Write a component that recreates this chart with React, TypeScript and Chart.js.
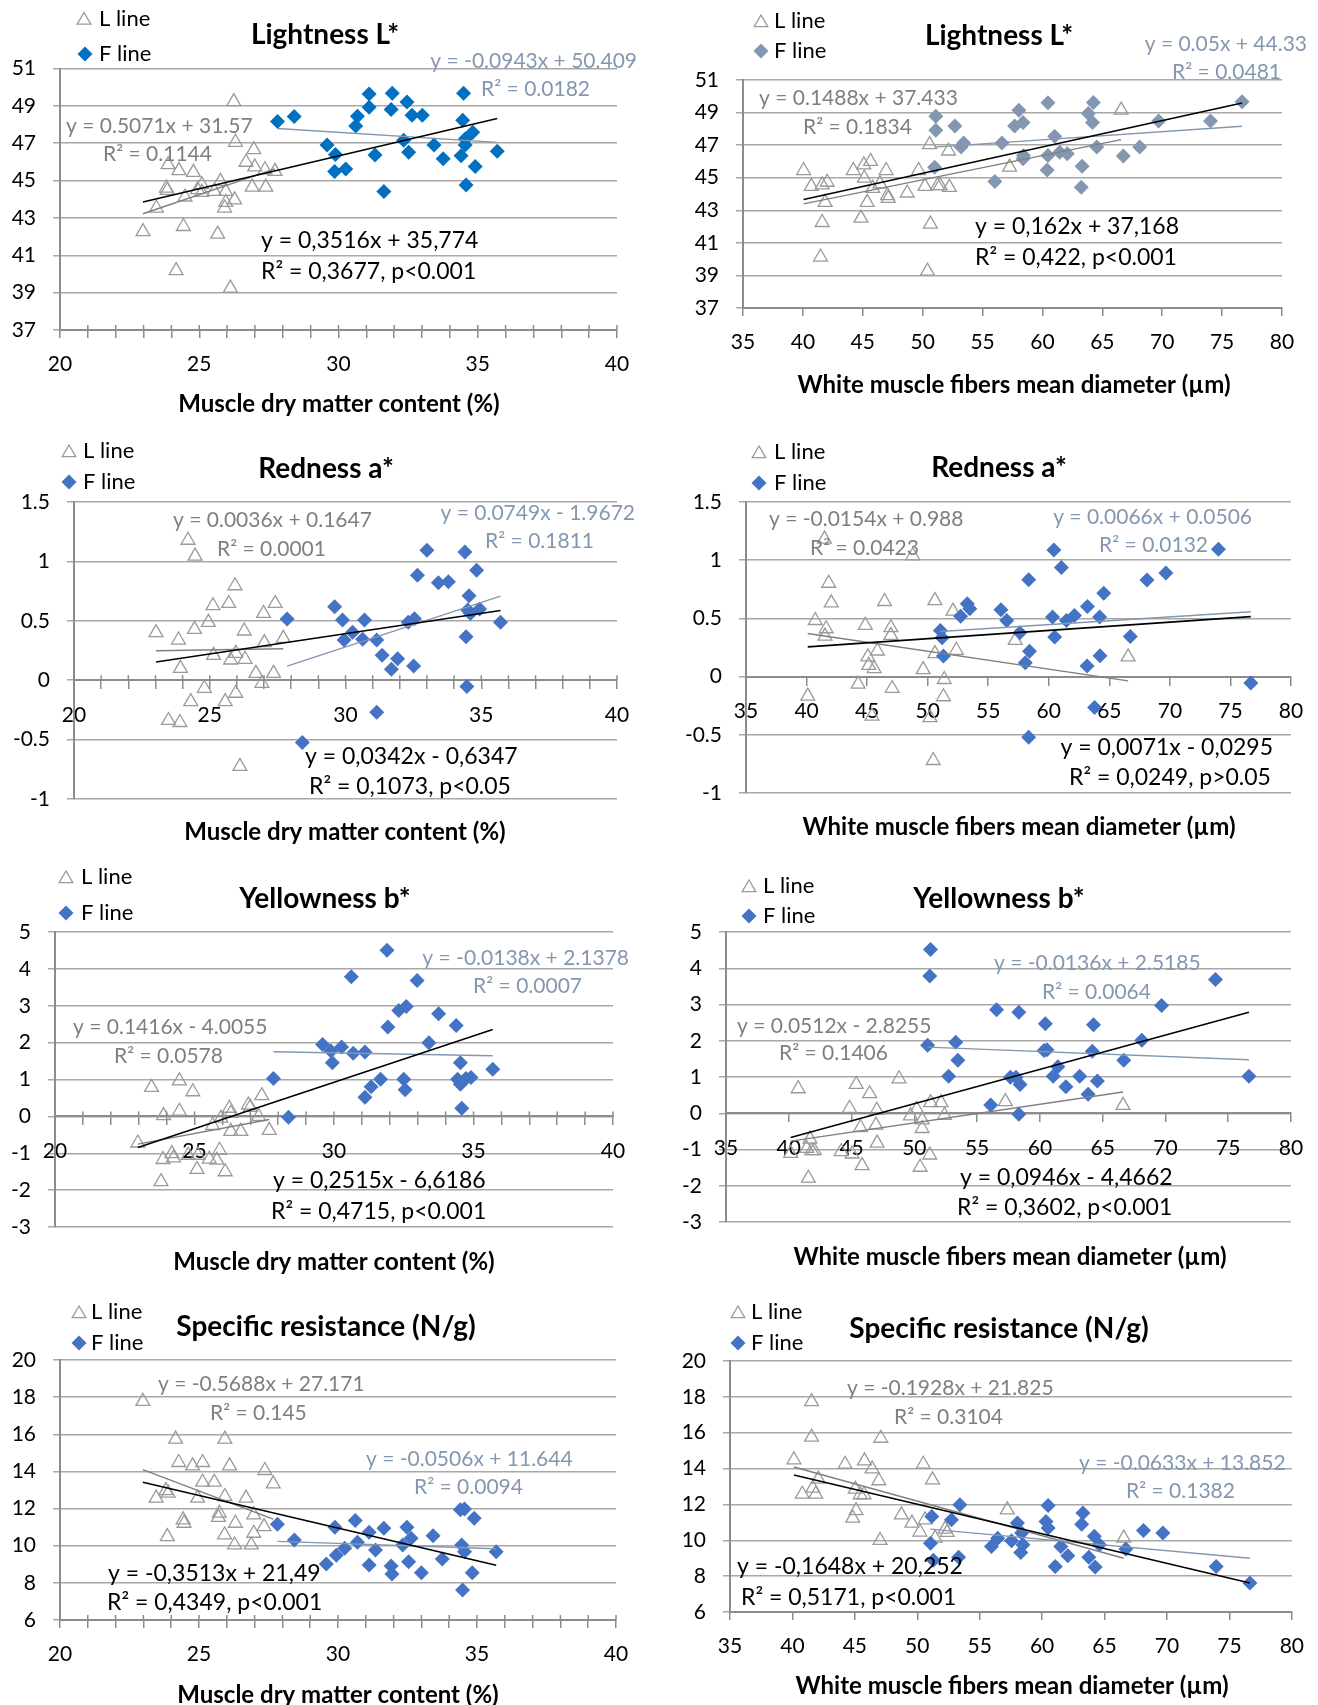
import React, { useEffect, useRef } from 'react';
import { Chart, registerables } from 'chart.js';

Chart.register(...registerables);

// ---------------- DATA ----------------
// Panel 1: Lightness L* vs muscle dry matter content
const p1LX = [22.98, 23.46, 23.82, 23.88, 23.85, 24.17, 24.27, 24.43, 24.49, 24.79, 24.94, 25.09, 25.09, 25.54, 25.76, 25.66, 25.91, 25.95, 25.95, 26.12, 26.27, 26.24, 26.30, 26.68, 26.90, 26.96, 26.99, 27.36, 27.39, 27.72];
const p1LY = [42.27, 43.53, 44.60, 45.85, 44.47, 40.18, 45.53, 42.54, 44.12, 45.44, 44.51, 44.78, 44.37, 44.42, 44.96, 42.13, 43.53, 43.83, 44.42, 39.24, 43.97, 49.23, 47.05, 45.98, 44.65, 46.66, 45.73, 45.58, 44.65, 45.49];
const p1FX = [27.81, 28.41, 29.59, 29.89, 29.86, 30.26, 30.62, 30.68, 31.10, 31.10, 31.31, 31.63, 31.93, 31.89, 32.34, 32.46, 32.52, 32.64, 33.01, 33.43, 33.76, 34.49, 34.46, 34.40, 34.55, 34.55, 34.58, 34.82, 34.91, 35.70];
const p1FY = [48.16, 48.43, 46.91, 46.39, 45.49, 45.62, 47.92, 48.44, 49.64, 48.93, 46.37, 44.42, 49.68, 48.80, 47.16, 49.21, 46.51, 48.50, 48.50, 46.91, 46.17, 49.68, 48.23, 46.33, 47.23, 46.91, 44.76, 47.59, 45.76, 46.57];

// Panel 2: Lightness L* vs white muscle fibers mean diameter
const p2LX = [40.06, 40.70, 41.61, 42.03, 41.86, 41.61, 41.47, 44.21, 44.85, 45.09, 45.65, 45.13, 45.37, 45.83, 46.43, 46.95, 47.06, 47.13, 48.71, 49.66, 50.19, 50.58, 50.65, 50.40, 51.24, 51.46, 52.23, 52.16, 57.26, 66.57];
const p2LY = [45.44, 44.47, 44.56, 44.72, 43.49, 42.25, 40.13, 45.44, 42.52, 45.79, 46.00, 44.97, 43.49, 44.35, 44.62, 45.44, 43.90, 43.73, 44.06, 45.44, 44.47, 47.03, 42.15, 39.26, 44.51, 44.51, 44.41, 46.64, 45.65, 49.15];
const p2FX = [51.10, 51.10, 51.00, 52.69, 53.21, 53.42, 56.03, 56.62, 57.68, 58.03, 58.38, 58.42, 58.38, 60.46, 60.39, 60.46, 61.02, 61.44, 62.07, 63.31, 63.24, 63.83, 64.25, 64.18, 64.54, 66.75, 68.12, 69.70, 74.03, 76.67];
const p2FY = [48.78, 47.91, 45.65, 48.18, 46.88, 47.13, 44.76, 47.13, 48.18, 49.15, 48.39, 46.37, 46.16, 49.60, 45.48, 46.37, 47.54, 46.57, 46.47, 45.71, 44.41, 48.94, 49.62, 48.39, 46.88, 46.33, 46.88, 48.49, 48.49, 49.66];

// Panel 3: Redness a* vs muscle dry matter content
const p3LX = [23.02, 23.48, 23.85, 23.92, 23.90, 24.20, 24.30, 24.44, 24.46, 24.80, 24.95, 25.12, 25.14, 25.57, 25.70, 25.77, 25.93, 25.96, 25.96, 26.11, 26.27, 26.30, 26.70, 26.92, 26.98, 27.01, 27.35, 27.41, 27.71];
const p3LY = [0.400, -0.339, 0.338, 0.100, -0.356, 1.178, -0.180, 0.428, 1.044, -0.068, 0.487, 0.627, 0.209, -0.180, 0.646, 0.170, 0.795, -0.110, 0.226, -0.726, 0.414, 0.176, 0.058, -0.026, 0.562, 0.316, 0.058, 0.646, 0.352];
const p3FX = [27.85, 28.41, 29.60, 29.89, 29.95, 30.26, 30.63, 30.70, 31.15, 31.15, 31.35, 31.69, 31.92, 32.31, 32.54, 32.51, 32.65, 33.00, 33.42, 33.79, 34.40, 34.44, 34.55, 34.50, 34.60, 34.47, 34.83, 34.94, 35.71];
const p3FY = [0.515, -0.524, 0.618, 0.506, 0.338, 0.403, 0.344, 0.506, 0.338, -0.269, 0.209, 0.092, 0.181, 0.487, 0.517, 0.120, 0.884, 1.094, 0.820, 0.828, 1.080, 0.366, 0.711, 0.590, 0.562, -0.054, 0.926, 0.599, 0.487];

// Panel 4: Redness a* vs white muscle fibers mean diameter
const p4LX = [40.10, 40.72, 41.48, 41.62, 41.52, 41.83, 42.04, 44.26, 44.85, 45.06, 45.13, 45.40, 45.58, 45.85, 46.44, 46.96, 46.96, 47.07, 48.77, 49.63, 50.19, 50.46, 50.60, 50.60, 51.37, 51.30, 52.09, 52.37, 57.23, 66.55];
const p4LY = [-0.168, 0.482, 1.181, 0.411, 0.348, 0.802, 0.633, -0.065, 0.440, 0.169, 0.097, -0.339, 0.069, 0.220, 0.645, 0.420, 0.354, -0.102, 1.038, 0.060, -0.353, -0.721, 0.653, 0.197, -0.025, -0.173, 0.562, 0.226, 0.311, 0.169];
const p4FX = [51.05, 51.19, 51.30, 52.72, 53.27, 53.48, 56.05, 56.53, 57.61, 58.06, 58.34, 58.41, 58.34, 60.31, 60.42, 60.49, 61.04, 61.46, 62.12, 63.19, 63.16, 63.78, 64.20, 64.23, 64.54, 66.73, 68.11, 69.67, 74.01, 76.68];
const p4FY = [0.397, 0.334, 0.177, 0.519, 0.625, 0.582, 0.574, 0.482, 0.377, 0.120, 0.833, 0.217, -0.521, 0.511, 1.087, 0.340, 0.938, 0.482, 0.525, 0.602, 0.092, -0.265, 0.511, 0.180, 0.716, 0.345, 0.830, 0.890, 1.095, -0.054];

// Panel 5: Yellowness b* vs muscle dry matter content
const p5LX = [22.97, 23.46, 23.89, 23.87, 23.80, 24.19, 24.25, 24.46, 24.46, 24.77, 24.94, 25.09, 25.12, 25.53, 25.65, 25.80, 25.90, 25.95, 26.10, 26.25, 26.30, 26.30, 26.66, 26.93, 27.00, 27.30, 27.41, 27.68];
const p5LY = [-0.722, 0.785, 0.022, -1.170, -1.771, -1.009, -1.126, 0.964, 0.139, -1.054, 0.668, -1.439, -1.054, -1.161, -0.247, -1.188, -0.919, -0.049, -1.502, 0.220, 0.085, -0.408, -0.408, 0.309, 0.247, -0.004, 0.561, -0.381];
const p5FX = [27.83, 28.37, 29.59, 29.89, 29.94, 30.27, 30.62, 30.69, 31.11, 31.11, 31.33, 31.67, 31.90, 31.93, 32.32, 32.59, 32.50, 32.55, 32.98, 33.40, 33.75, 34.38, 34.53, 34.43, 34.53, 34.58, 34.73, 34.91, 35.69];
const p5FY = [1.027, -0.022, 1.951, 1.771, 1.457, 1.879, 3.789, 1.709, 1.744, 0.516, 0.803, 1.009, 4.507, 2.426, 2.874, 2.982, 1.009, 0.722, 3.682, 1.996, 2.785, 2.462, 1.457, 1.009, 0.874, 0.220, 1.027, 1.054, 1.278];

// Panel 6: Yellowness b* vs white muscle fibers mean diameter
const p6LX = [40.15, 40.75, 41.56, 41.42, 41.69, 41.83, 42.03, 44.17, 44.84, 45.04, 45.37, 45.71, 45.84, 46.44, 46.94, 47.01, 47.04, 48.78, 49.69, 50.19, 50.46, 50.62, 50.62, 51.23, 51.29, 52.13, 52.40, 57.25, 66.62];
const p6LY = [-1.106, 0.676, -1.792, -0.969, -0.713, -1.033, -1.033, -1.060, 0.137, -1.124, 0.795, -0.393, -1.444, 0.539, -0.329, 0.082, -0.823, 0.951, -0.073, 0.110, -1.490, -0.420, -0.182, -1.152, 0.293, 0.293, -0.055, 0.320, 0.219];
const p6FX = [51.29, 51.23, 51.06, 52.73, 53.30, 53.47, 56.08, 56.55, 57.65, 58.09, 58.32, 58.42, 58.32, 60.43, 60.33, 60.56, 61.06, 61.43, 62.07, 63.17, 63.84, 64.27, 64.17, 64.58, 66.68, 68.12, 69.69, 73.98, 76.65];
const p6FY = [4.516, 3.784, 1.874, 1.024, 1.956, 1.463, 0.229, 2.852, 0.996, 0.996, 2.788, 0.795, -0.027, 2.468, 1.728, 1.755, 1.024, 1.280, 0.731, 1.024, 0.521, 2.441, 1.709, 0.887, 1.463, 2.011, 2.971, 3.693, 1.024];

// Panel 7: Specific resistance vs muscle dry matter content
const p7LX = [22.98, 23.46, 23.81, 23.89, 23.86, 24.16, 24.27, 24.43, 24.46, 24.77, 24.95, 25.13, 25.13, 25.55, 25.70, 25.73, 25.93, 25.93, 25.92, 26.10, 26.31, 26.28, 26.69, 26.88, 26.97, 26.97, 27.34, 27.37, 27.67];
const p7LY = [17.77, 12.56, 12.97, 12.83, 10.49, 15.74, 14.48, 11.39, 11.21, 14.30, 12.56, 14.48, 13.42, 13.42, 11.53, 11.75, 15.74, 12.65, 10.58, 14.30, 11.21, 10.04, 12.56, 10.04, 11.66, 10.67, 11.03, 14.05, 13.33];
const p7FX = [27.82, 28.43, 29.58, 29.89, 29.94, 30.24, 30.62, 30.70, 31.12, 31.12, 31.35, 31.65, 31.91, 31.94, 32.33, 32.48, 32.63, 32.54, 33.00, 33.42, 33.75, 34.40, 34.55, 34.45, 34.55, 34.48, 34.83, 34.90, 35.69];
const p7FY = [11.16, 10.31, 9.02, 11.00, 9.49, 9.86, 11.36, 10.19, 10.73, 8.96, 9.77, 10.94, 8.91, 8.48, 10.04, 11.00, 10.40, 9.14, 8.55, 10.53, 9.29, 11.93, 11.98, 10.04, 9.68, 7.62, 8.55, 11.48, 9.68];

// Panel 8: Specific resistance vs white muscle fibers mean diameter
const p8LX = [40.12, 40.79, 41.53, 41.53, 41.63, 41.87, 42.07, 44.22, 44.83, 45.10, 45.03, 45.43, 45.77, 45.74, 46.38, 46.92, 47.08, 47.02, 48.73, 49.57, 50.21, 50.48, 50.62, 51.22, 51.43, 52.23, 52.40, 57.21, 66.54];
const p8LY = [14.49, 12.57, 17.73, 15.75, 12.91, 12.57, 13.41, 14.24, 11.24, 11.65, 12.85, 12.54, 14.43, 12.54, 13.98, 13.32, 15.69, 9.99, 11.42, 10.96, 10.46, 14.24, 11.14, 13.37, 10.12, 10.62, 10.44, 11.70, 10.12];
const p8FX = [51.16, 51.06, 51.29, 52.74, 53.41, 53.31, 55.94, 56.44, 57.55, 58.02, 58.29, 58.36, 58.46, 60.48, 60.31, 60.48, 61.05, 61.49, 62.06, 63.27, 63.17, 63.74, 64.18, 64.25, 64.59, 66.71, 68.12, 69.67, 73.94, 76.64];
const p8FY = [11.33, 9.84, 8.88, 11.14, 11.98, 9.05, 9.66, 10.12, 9.97, 10.96, 9.32, 10.40, 9.75, 11.94, 11.05, 10.68, 8.54, 9.66, 9.14, 11.52, 10.90, 9.06, 10.22, 8.51, 9.75, 9.51, 10.55, 10.40, 8.54, 7.62];

// Linear trend equations printed on the charts: [slope, intercept], panels 1..8
const lFits = [[0.5071, 31.57], [0.1488, 37.433], [0.0036, 0.1647], [-0.0154, 0.988], [0.1416, -4.0055], [0.0512, -2.8255], [-0.5688, 27.171], [-0.1928, 21.825]];
const fFits = [[-0.0943, 50.409], [0.05, 44.33], [0.0749, -1.9672], [0.0066, 0.0506], [-0.0138, 2.1378], [-0.0136, 2.5185], [-0.0506, 11.644], [-0.0633, 13.852]];
const allFits = [[0.3516, 35.774], [0.162, 37.168], [0.0342, -0.6347], [0.0071, -0.0295], [0.2515, -6.6186], [0.0946, -4.4662], [-0.3513, 21.49], [-0.1648, 20.252]];

// Axis tick ranges
const dryTicks = [20, 40, 1, 5];      // min, max, step, label every
const diamTicks = [35, 80, 5, 5];
const lightTicks = [37, 51, 2];
const redTicks = [-1, 1.5, 0.5];
const yellowTicks = [-3, 5, 1];
const resistTicks = [6, 20, 2];

// ---------------- STYLE ----------------
const GRID = '#a8a8a8';
const AXIS = '#8c8c8c';
const LGRAY = '#7f7f7f';
const FBLUEG = '#8497b0';
const FAM = 'Lato, "Open Sans", sans-serif';
const F_TITLE = `bold 28px ${FAM}`;
const F_AXT = `bold 24px ${FAM}`;
const F_EQ = `23px ${FAM}`;
const F_EQG = `21px ${FAM}`;
const F_LEG = `22px ${FAM}`;
const DRY_T = 'Muscle dry matter content (%)';
const DIA_T = 'White muscle fibers mean diameter (µm)';

type Txt = { s: string; x: number; y: number; a: CanvasTextAlign; c: string; f: string };
const t = (s: string, x: number, y: number, a: CanvasTextAlign, c: string, f: string): Txt => ({ s, x, y, a, c, f });

interface PanelCfg {
  box: { x: number; y: number; w: number; h: number };
  plot: { l: number; r: number; t: number; b: number };
  xt: number[]; yt: number[]; inner: boolean; cross: number | null;
  fColor: string;
  lx: number[]; ly: number[]; fx: number[]; fy: number[];
  idx: number;
  legL: [number, number]; legF: [number, number]; legTX: number;
  texts: Txt[];
}

const PANELS: PanelCfg[] = [
  {
    box: { x: 0, y: 0, w: 659, h: 425 }, plot: { l: 60, r: 617, t: 68.5, b: 330 },
    xt: dryTicks, yt: lightTicks, inner: true, cross: null, fColor: '#0070c0',
    lx: p1LX, ly: p1LY, fx: p1FX, fy: p1FY, idx: 0,
    legL: [84, 18.5], legF: [85, 54], legTX: 99,
    texts: [
      t('Lightness L*', 325, 35, 'center', '#000', F_TITLE),
      t('y = -0.0943x + 50.409', 637, 61, 'right', FBLUEG, F_EQG),
      t('R² = 0.0182', 590, 89, 'right', FBLUEG, F_EQG),
      t('y = 0.5071x + 31.57', 66, 126, 'left', LGRAY, F_EQG),
      t('R² = 0.1144', 103, 154, 'left', LGRAY, F_EQG),
      t('y = 0,3516x + 35,774', 261, 241, 'left', '#000', F_EQ),
      t('R² = 0,3677, p<0.001', 261, 272, 'left', '#000', F_EQ),
      t(DRY_T, 339, 404, 'center', '#000', F_AXT),
    ],
  },
  {
    box: { x: 659, y: 0, w: 659, h: 425 }, plot: { l: 743, r: 1282, t: 80, b: 308 },
    xt: diamTicks, yt: lightTicks, inner: false, cross: null, fColor: '#8497b0',
    lx: p2LX, ly: p2LY, fx: p2FX, fy: p2FY, idx: 1,
    legL: [761, 21], legF: [761, 51], legTX: 774,
    texts: [
      t('Lightness L*', 999, 36, 'center', '#000', F_TITLE),
      t('y = 0.05x + 44.33', 1307, 44, 'right', FBLUEG, F_EQG),
      t('R² = 0.0481', 1281, 72, 'right', FBLUEG, F_EQG),
      t('y = 0.1488x + 37.433', 759, 98, 'left', LGRAY, F_EQG),
      t('R² = 0.1834', 803, 127, 'left', LGRAY, F_EQG),
      t('y = 0,162x + 37,168', 975, 227, 'left', '#000', F_EQ),
      t('R² = 0,422, p<0.001', 975, 258, 'left', '#000', F_EQ),
      t(DIA_T, 1014, 385, 'center', '#000', F_AXT),
    ],
  },
  {
    box: { x: 0, y: 425, w: 659, h: 425 }, plot: { l: 74, r: 617, t: 502, b: 799 },
    xt: dryTicks, yt: redTicks, inner: true, cross: 0, fColor: '#4472c4',
    lx: p3LX, ly: p3LY, fx: p3FX, fy: p3FY, idx: 2,
    legL: [69, 451], legF: [69, 482], legTX: 83,
    texts: [
      t('Redness a*', 326, 469, 'center', '#000', F_TITLE),
      t('y = 0.0749x - 1.9672', 635, 513, 'right', FBLUEG, F_EQG),
      t('R² = 0.1811', 594, 541, 'right', FBLUEG, F_EQG),
      t('y = 0.0036x + 0.1647', 173, 520, 'left', LGRAY, F_EQG),
      t('R² = 0.0001', 217, 549, 'left', LGRAY, F_EQG),
      t('y = 0,0342x - 0,6347', 305, 757, 'left', '#000', F_EQ),
      t('R² = 0,1073, p<0.05', 309, 787, 'left', '#000', F_EQ),
      t(DRY_T, 345, 832, 'center', '#000', F_AXT),
    ],
  },
  {
    box: { x: 659, y: 425, w: 659, h: 425 }, plot: { l: 746, r: 1291, t: 502, b: 793 },
    xt: diamTicks, yt: redTicks, inner: false, cross: 0, fColor: '#4472c4',
    lx: p4LX, ly: p4LY, fx: p4FX, fy: p4FY, idx: 3,
    legL: [759, 452], legF: [759, 483], legTX: 774,
    texts: [
      t('Redness a*', 999, 468, 'center', '#000', F_TITLE),
      t('y = 0.0066x + 0.0506', 1252, 517, 'right', FBLUEG, F_EQG),
      t('R² = 0.0132', 1208, 545, 'right', FBLUEG, F_EQG),
      t('y = -0.0154x + 0.988', 769, 519, 'left', LGRAY, F_EQG),
      t('R² = 0.0423', 810, 548, 'left', LGRAY, F_EQG),
      t('y = 0,0071x - 0,0295', 1273, 748, 'right', '#000', F_EQ),
      t('R² = 0,0249, p>0.05', 1069, 778, 'left', '#000', F_EQ),
      t(DIA_T, 1019, 827, 'center', '#000', F_AXT),
    ],
  },
  {
    box: { x: 0, y: 850, w: 659, h: 430 }, plot: { l: 55, r: 613, t: 932, b: 1227 },
    xt: dryTicks, yt: yellowTicks, inner: true, cross: 0, fColor: '#4472c4',
    lx: p5LX, ly: p5LY, fx: p5FX, fy: p5FY, idx: 4,
    legL: [66, 877], legF: [66, 913], legTX: 81,
    texts: [
      t('Yellowness b*', 325, 899, 'center', '#000', F_TITLE),
      t('y = -0.0138x + 2.1378', 629, 958, 'right', FBLUEG, F_EQG),
      t('R² = 0.0007', 582, 986, 'right', FBLUEG, F_EQG),
      t('y = 0.1416x - 4.0055', 73, 1027, 'left', LGRAY, F_EQG),
      t('R² = 0.0578', 114, 1056, 'left', LGRAY, F_EQG),
      t('y = 0,2515x - 6,6186', 273, 1181, 'left', '#000', F_EQ),
      t('R² = 0,4715, p<0.001', 271, 1212, 'left', '#000', F_EQ),
      t(DRY_T, 334, 1262, 'center', '#000', F_AXT),
    ],
  },
  {
    box: { x: 659, y: 850, w: 659, h: 430 }, plot: { l: 726, r: 1291, t: 932, b: 1222 },
    xt: diamTicks, yt: yellowTicks, inner: false, cross: 0, fColor: '#4472c4',
    lx: p6LX, ly: p6LY, fx: p6FX, fy: p6FY, idx: 5,
    legL: [749, 886], legF: [749, 916], legTX: 763,
    texts: [
      t('Yellowness b*', 999, 899, 'center', '#000', F_TITLE),
      t('y = -0.0136x + 2.5185', 994, 963, 'left', FBLUEG, F_EQG),
      t('R² = 0.0064', 1042, 992, 'left', FBLUEG, F_EQG),
      t('y = 0.0512x - 2.8255', 737, 1026, 'left', LGRAY, F_EQG),
      t('R² = 0.1406', 779, 1053, 'left', LGRAY, F_EQG),
      t('y = 0,0946x - 4,4662', 960, 1178, 'left', '#000', F_EQ),
      t('R² = 0,3602, p<0.001', 957, 1208, 'left', '#000', F_EQ),
      t(DIA_T, 1010, 1257, 'center', '#000', F_AXT),
    ],
  },
  {
    box: { x: 0, y: 1280, w: 659, h: 425 }, plot: { l: 60, r: 616, t: 1360, b: 1620 },
    xt: dryTicks, yt: resistTicks, inner: true, cross: null, fColor: '#4472c4',
    lx: p7LX, ly: p7LY, fx: p7FX, fy: p7FY, idx: 6,
    legL: [79, 1312], legF: [79, 1343], legTX: 91,
    texts: [
      t('Specific resistance (N/g)', 326, 1327, 'center', '#000', F_TITLE),
      t('y = -0.0506x + 11.644', 366, 1459, 'left', FBLUEG, F_EQG),
      t('R² = 0.0094', 414, 1487, 'left', FBLUEG, F_EQG),
      t('y = -0.5688x + 27.171', 158, 1384, 'left', LGRAY, F_EQG),
      t('R² = 0.145', 210, 1413, 'left', LGRAY, F_EQG),
      t('y = -0,3513x + 21,49', 108, 1574, 'left', '#000', F_EQ),
      t('R² = 0,4349, p<0.001', 107, 1603, 'left', '#000', F_EQ),
      t(DRY_T, 338, 1695, 'center', '#000', F_AXT),
    ],
  },
  {
    box: { x: 659, y: 1280, w: 659, h: 425 }, plot: { l: 730, r: 1292, t: 1361, b: 1612 },
    xt: diamTicks, yt: resistTicks, inner: false, cross: null, fColor: '#4472c4',
    lx: p8LX, ly: p8LY, fx: p8FX, fy: p8FY, idx: 7,
    legL: [738, 1312], legF: [738, 1343], legTX: 751,
    texts: [
      t('Specific resistance (N/g)', 999, 1329, 'center', '#000', F_TITLE),
      t('y = -0.0633x + 13.852', 1079, 1463, 'left', FBLUEG, F_EQG),
      t('R² = 0.1382', 1126, 1491, 'left', FBLUEG, F_EQG),
      t('y = -0.1928x + 21.825', 847, 1388, 'left', LGRAY, F_EQG),
      t('R² = 0.3104', 894, 1417, 'left', LGRAY, F_EQG),
      t('y = -0,1648x + 20,252', 737, 1567, 'left', '#000', F_EQ),
      t('R² = 0,5171, p<0.001', 741, 1598, 'left', '#000', F_EQ),
      t(DIA_T, 1012, 1686, 'center', '#000', F_AXT),
    ],
  },
];

const pts = (xs: number[], ys: number[]) => xs.map((x, i) => ({ x, y: ys[i] }));
const trend = (fit: number[], xs: number[]) => {
  const a = Math.min(...xs);
  const b = Math.max(...xs);
  return [{ x: a, y: fit[0] * a + fit[1] }, { x: b, y: fit[0] * b + fit[1] }];
};

function makeDecor(p: PanelCfg) {
  return {
    id: 'decor' + p.idx,
    afterDraw(chart: any) {
      const ctx = chart.ctx as CanvasRenderingContext2D;
      const ox = p.box.x;
      const oy = p.box.y;
      ctx.save();
      if (p.inner) {
        const xs = chart.scales.x;
        const ys = chart.scales.y;
        const ay = ys.getPixelForValue(p.cross === null ? p.yt[0] : p.cross);
        ctx.strokeStyle = AXIS;
        ctx.lineWidth = 1.5;
        for (let v = p.xt[0]; v <= p.xt[1]; v += p.xt[2]) {
          const px = xs.getPixelForValue(v);
          ctx.beginPath();
          ctx.moveTo(px, ay - 5);
          ctx.lineTo(px, ay);
          ctx.stroke();
        }
      }
      // legend markers
      const lx = p.legL[0] - ox;
      const ly = p.legL[1] - oy;
      ctx.beginPath();
      ctx.moveTo(lx, ly - 6);
      ctx.lineTo(lx + 6.8, ly + 5.6);
      ctx.lineTo(lx - 6.8, ly + 5.6);
      ctx.closePath();
      ctx.strokeStyle = '#9a9a9a';
      ctx.lineWidth = 1.3;
      ctx.stroke();
      const fx = p.legF[0] - ox;
      const fy = p.legF[1] - oy;
      ctx.beginPath();
      ctx.moveTo(fx, fy - 7.5);
      ctx.lineTo(fx + 7.5, fy);
      ctx.lineTo(fx, fy + 7.5);
      ctx.lineTo(fx - 7.5, fy);
      ctx.closePath();
      ctx.fillStyle = p.fColor;
      ctx.fill();
      ctx.textBaseline = 'middle';
      ctx.font = F_LEG;
      ctx.fillStyle = '#000';
      ctx.textAlign = 'left';
      ctx.fillText('L line', p.legTX - ox, ly);
      ctx.fillText('F line', p.legTX - ox, fy);
      for (const tx of p.texts) {
        ctx.font = tx.f;
        ctx.fillStyle = tx.c;
        ctx.textAlign = tx.a;
        ctx.fillText(tx.s, tx.x - ox, tx.y - oy);
      }
      ctx.restore();
    },
  };
}

function Panel({ p }: { p: PanelCfg }) {
  const ref = useRef<HTMLCanvasElement>(null);
  useEffect(() => {
    const canvas = ref.current;
    if (!canvas) return;
    const allX = p.lx.concat(p.fx);
    const tickFont = { family: FAM, size: 21 };
    const leftW = p.plot.l - p.box.x;
    const bottomH = p.box.y + p.box.h - p.plot.b;
    const crossed = p.cross !== null;
    const chart = new Chart(canvas, {
      type: 'scatter',
      data: {
        datasets: [
          { type: 'line', data: trend(allFits[p.idx], allX), borderColor: '#000', borderWidth: 1.6, pointRadius: 0, fill: false, order: 0 } as any,
          { type: 'line', data: trend(fFits[p.idx], p.fx), borderColor: FBLUEG, borderWidth: 1.4, pointRadius: 0, fill: false, order: 0 } as any,
          { type: 'line', data: trend(lFits[p.idx], p.lx), borderColor: LGRAY, borderWidth: 1.4, pointRadius: 0, fill: false, order: 0 } as any,
          { data: pts(p.fx, p.fy), pointStyle: 'rectRot', pointRadius: 7.5, backgroundColor: p.fColor, borderColor: p.fColor, borderWidth: 0, order: 1 } as any,
          { data: pts(p.lx, p.ly), pointStyle: 'triangle', pointRadius: 8, backgroundColor: 'rgba(0,0,0,0)', borderColor: '#9a9a9a', borderWidth: 1.3, order: 2 } as any,
        ],
      },
      options: {
        responsive: false,
        animation: false,
        events: [],
        layout: {
          padding: {
            left: 0,
            right: p.box.x + p.box.w - p.plot.r,
            top: p.plot.t - p.box.y,
            bottom: crossed ? bottomH : 0,
          },
        },
        plugins: { legend: { display: false }, tooltip: { enabled: false } },
        scales: {
          x: {
            type: 'linear',
            min: p.xt[0],
            max: p.xt[1],
            position: (crossed ? { y: p.cross } : 'bottom') as any,
            afterFit: (s: any) => { s.height = crossed ? 0 : bottomH; },
            ticks: {
              stepSize: p.xt[2],
              maxTicksLimit: 100,
              autoSkip: false,
              maxRotation: 0,
              minRotation: 0,
              color: '#000',
              font: tickFont,
              padding: 14,
              callback: (v: any) => (Math.abs(v % p.xt[3]) < 1e-9 ? String(v) : ''),
            },
            grid: { drawOnChartArea: false, drawTicks: true, tickLength: 8, color: AXIS, lineWidth: 1.5 },
            border: { display: true, color: AXIS, width: 2 },
          },
          y: {
            type: 'linear',
            min: p.yt[0],
            max: p.yt[1],
            position: 'left',
            afterFit: (s: any) => { s.width = leftW; },
            ticks: {
              stepSize: p.yt[2],
              maxTicksLimit: 100,
              color: '#000',
              font: tickFont,
              padding: 17,
              callback: (v: any) => String(v),
            },
            grid: { color: GRID, lineWidth: 1.5, drawTicks: true, tickLength: 7 },
            border: { display: true, color: AXIS, width: 2 },
          },
        },
      } as any,
      plugins: [makeDecor(p)],
    });
    return () => chart.destroy();
  }, [p]);
  return (
    <canvas
      ref={ref}
      width={p.box.w}
      height={p.box.h}
      style={{ position: 'absolute', left: p.box.x, top: p.box.y, width: p.box.w, height: p.box.h }}
    />
  );
}

export default function App() {
  return (
    <div style={{ position: 'absolute', left: 0, top: 0, width: 1318, height: 1705, background: '#fff', overflow: 'hidden' }}>
      {PANELS.map((p) => (
        <Panel key={p.idx} p={p} />
      ))}
    </div>
  );
}
